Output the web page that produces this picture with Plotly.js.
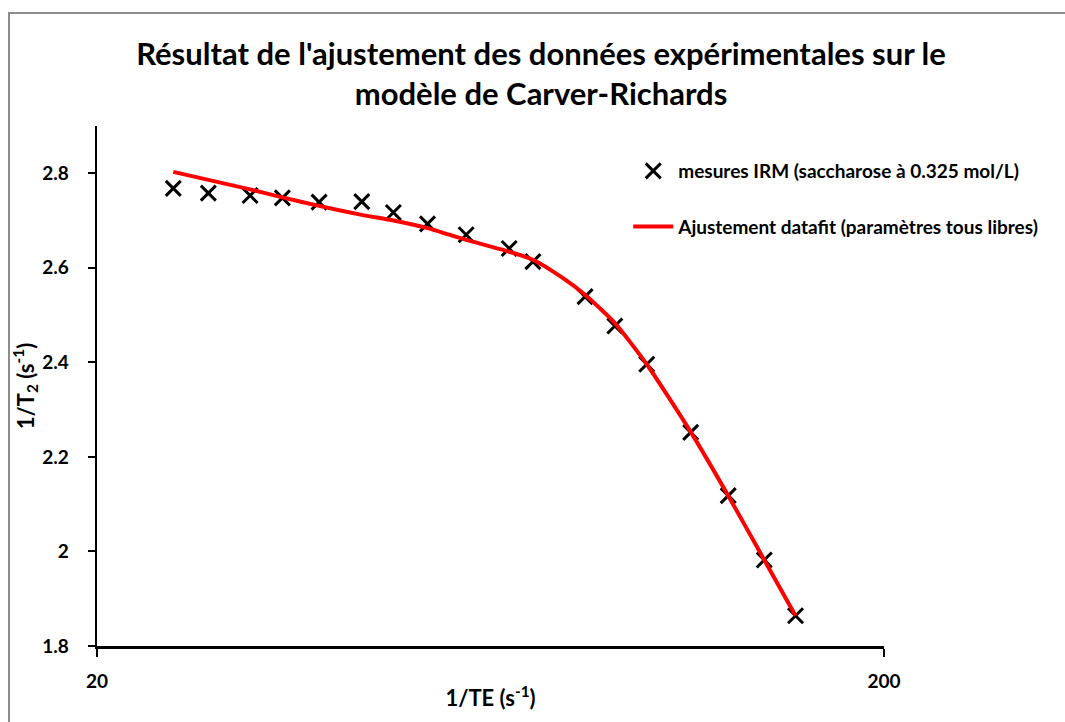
<!DOCTYPE html>
<html>
<head>
<meta charset="utf-8">
<script src="https://cdn.plot.ly/plotly-3.0.1.min.js"></script>
<style>
html,body{margin:0;padding:0;background:#fff;}
#wrap{position:relative;width:1065px;height:722px;overflow:hidden;}
#chart{width:1065px;height:722px;}
#frame{position:absolute;left:8px;top:12px;width:1200px;height:800px;border-left:2px solid #8c8c8c;border-top:2px solid #8c8c8c;pointer-events:none;}
</style>
</head>
<body>
<div id="wrap"><div id="chart"></div><div id="frame"></div></div>
<script>
// Measured data (1/TE in s^-1, 1/T2 in s^-1)
const invTE = [25.0, 27.7, 31.3, 34.4, 38.3, 43.4, 47.6, 52.6, 58.9, 66.8, 71.6, 83.4, 91.0, 99.9, 113.6, 126.8, 140.9, 154.4];
const invT2 = [2.768, 2.758, 2.753, 2.748, 2.739, 2.740, 2.717, 2.693, 2.670, 2.641, 2.613, 2.539, 2.477, 2.396, 2.252, 2.118, 1.982, 1.864];

// Fitted curve (Carver-Richards, datafit)
const fitX = [25.0, 27.7, 31.3, 34.4, 38.3, 43.4, 47.6, 52.6, 58.9, 66.8, 71.6, 78.2, 83.4, 91.0, 99.9, 113.6, 126.8, 140.9, 154.4];
const fitY = [2.803, 2.786, 2.766, 2.749, 2.731, 2.712, 2.700, 2.684, 2.659, 2.634, 2.617, 2.578, 2.543, 2.483, 2.396, 2.253, 2.118, 1.982, 1.864];

const xTicks = [20, 200];
const xTickText = ['20', '200'];

const FONT = 'Lato, "Open Sans", sans-serif';

const traces = [
  {
    x: invTE, y: invT2, type: 'scatter', mode: 'markers',
    name: 'mesures IRM (saccharose à 0.325 mol/L)',
    legendgroup: 'a',
    marker: {symbol: 'x-thin', size: 15, color: '#000', line: {color: '#000', width: 3}}
  },
  {
    x: fitX, y: fitY, type: 'scatter', mode: 'lines',
    name: 'Ajustement datafit (paramètres tous libres)',
    legendgroup: 'b',
    line: {color: '#ff0000', width: 4, shape: 'spline', smoothing: 0.6}
  }
];

const layout = {
  width: 1065, height: 722,
  margin: {l: 97, r: 181, t: 126, b: 76},
  paper_bgcolor: '#fff', plot_bgcolor: '#fff',
  font: {family: FONT, color: '#000', size: 19, weight: 'bold'},
  title: {
    text: "Résultat de l'ajustement des données expérimentales sur le<br>modèle de Carver-Richards",
    font: {family: FONT, size: 31, color: '#000', weight: 'bold'},
    x: 0.508, xref: 'container', xanchor: 'center',
    y: 1 - 65/722, yref: 'container', yanchor: 'top'
  },
  xaxis: {
    type: 'log', range: [Math.log10(20), Math.log10(200)],
    tickmode: 'array', tickvals: xTicks, ticktext: xTickText,
    showline: true, linecolor: '#000', linewidth: 2.5,
    ticks: 'outside', ticklen: 8, tickwidth: 2, tickcolor: '#000',
    showgrid: false, zeroline: false,
    ticklabelstandoff: 9,
    tickfont: {family: FONT, size: 19, color: '#000', weight: 'bold'},
    title: {text: '1/TE (s<sup>-1</sup>)', font: {family: FONT, size: 22, color: '#000', weight: 'bold'}, standoff: 0}
  },
  yaxis: {
    range: [1.8, 2.9], dtick: 0.2, tick0: 1.8,
    showline: true, linecolor: '#000', linewidth: 2.5,
    ticks: 'outside', ticklen: 7, tickwidth: 2, tickcolor: '#000',
    showgrid: false, zeroline: false,
    ticklabelstandoff: 15,
    tickfont: {family: FONT, size: 19, color: '#000', weight: 'bold'},
    title: {text: '1/T<sub>2</sub> (s<sup>-1</sup>)', font: {family: FONT, size: 22, color: '#000', weight: 'bold'}, standoff: 2}
  },
  showlegend: true,
  legend: {
    x: 0.675, y: 0.95, xanchor: 'left', yanchor: 'top',
    bgcolor: 'rgba(0,0,0,0)',
    traceorder: 'grouped', tracegroupgap: 28,
    itemwidth: 40,
    font: {family: FONT, size: 19, color: '#000', weight: 'bold'}
  }
};

Plotly.newPlot('chart', traces, layout, {displayModeBar: false, staticPlot: true});
</script>
</body>
</html>
